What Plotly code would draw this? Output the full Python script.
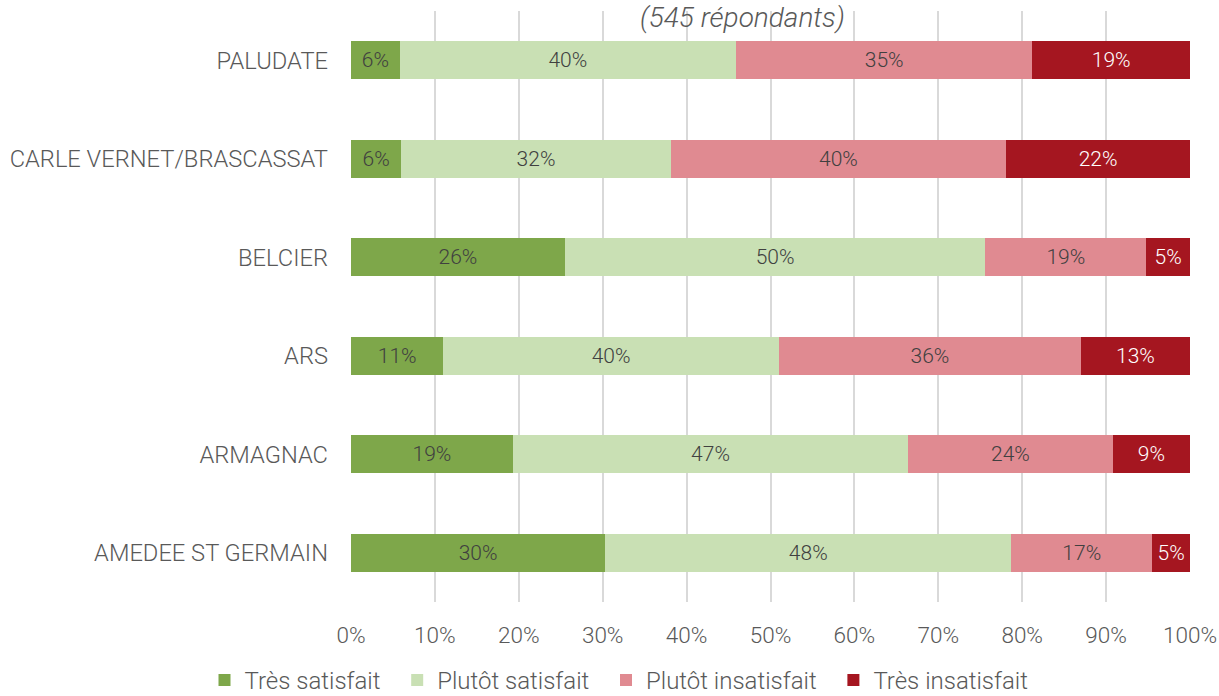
import plotly.graph_objects as go

categories = ["PALUDATE", "CARLE VERNET/BRASCASSAT", "BELCIER", "ARS", "ARMAGNAC", "AMEDEE ST GERMAIN"]
series_names = ["Très satisfait", "Plutôt satisfait", "Plutôt insatisfait", "Très insatisfait"]
tres_satisfait = [5.8, 6.0, 25.5, 11.0, 19.3, 30.3]
plutot_satisfait = [40.1, 32.1, 50.1, 40.0, 47.1, 48.4]
plutot_insatisfait = [35.3, 40.0, 19.2, 36.0, 24.4, 16.8]
tres_insatisfait = [18.8, 21.9, 5.2, 13.0, 9.2, 4.5]
colors = ["#7EA74A", "#C9E0B4", "#E08A91", "#A51620"]
text_colors = ["#404040", "#404040", "#404040", "#FFFFFF"]
tick_vals = [0, 10, 20, 30, 40, 50, 60, 70, 80, 90, 100]
tick_text = [f"{v}%" for v in tick_vals]

FONT = "Roboto"
W, H = 1219, 696
ML, MR, MT, MB = 351, 1219 - 1190, 11, 696 - 602
PW, PH = W - ML - MR, H - MT - MB

def px_x(x):
    return (x - ML) / PW

def px_y(y):
    return 1 - (y - MT) / PH

NBSP = "\u00a0"
fig = go.Figure()
for i, (name, vals, col, tc) in enumerate(zip(series_names,
                               [tres_satisfait, plutot_satisfait, plutot_insatisfait, tres_insatisfait],
                               colors, text_colors)):
    fig.add_trace(go.Bar(
        y=categories, x=vals, orientation="h",
        name=name + (NBSP * 2 if i < 3 else ""),
        marker=dict(color=col, line=dict(width=0)),
        text=[f"{int(v + 0.5)}%" for v in vals], textposition="inside",
        insidetextanchor="middle", textangle=0,
        textfont=dict(color=tc, size=21, family=FONT, weight=300),
        hoverinfo="x+name",
    ))

fig.update_layout(
    barmode="stack",
    width=W, height=H,
    paper_bgcolor="white", plot_bgcolor="white",
    margin=dict(l=ML, r=MR, t=MT, b=MB, autoexpand=False),
    bargap=0.61,
    font=dict(family=FONT, color="#595959", size=21, weight=300),
    uniformtext=dict(mode="show", minsize=10),
    xaxis=dict(range=[0, 100], tickvals=tick_vals, ticktext=tick_text,
               showgrid=True, gridcolor="#D9D9D9", gridwidth=1.5,
               zeroline=False, showline=False, ticks="", automargin=False,
               tickfont=dict(size=22.5, color="#595959", family=FONT, weight=300),
               ticklabelstandoff=17, fixedrange=True),
    yaxis=dict(categoryorder="array", categoryarray=categories[::-1],
               showgrid=False, zeroline=False, showline=False, ticks="", automargin=False,
               tickfont=dict(size=23.7, color="#595959", family=FONT, weight=300),
               ticklabelstandoff=22, fixedrange=True),
    legend=dict(orientation="h", x=px_x(619), xanchor="center",
                y=px_y(658), yanchor="top",
                font=dict(size=24, color="#595959", family=FONT, weight=300),
                traceorder="normal", itemwidth=30, bgcolor="rgba(0,0,0,0)"),
    showlegend=True,
)
fig.add_annotation(text="<i>(545 répondants)</i>",
                   x=px_x(742), xref="paper", xanchor="center",
                   y=px_y(17), yref="paper", yanchor="middle", showarrow=False,
                   font=dict(size=28, color="#595959", family=FONT, weight=300))
# remove the default 8px page margin so the figure fills the window exactly
fig.write_html("out.html", config={"displayModeBar": False},
               post_script="document.body.style.margin='0';document.body.style.overflow='hidden';")
